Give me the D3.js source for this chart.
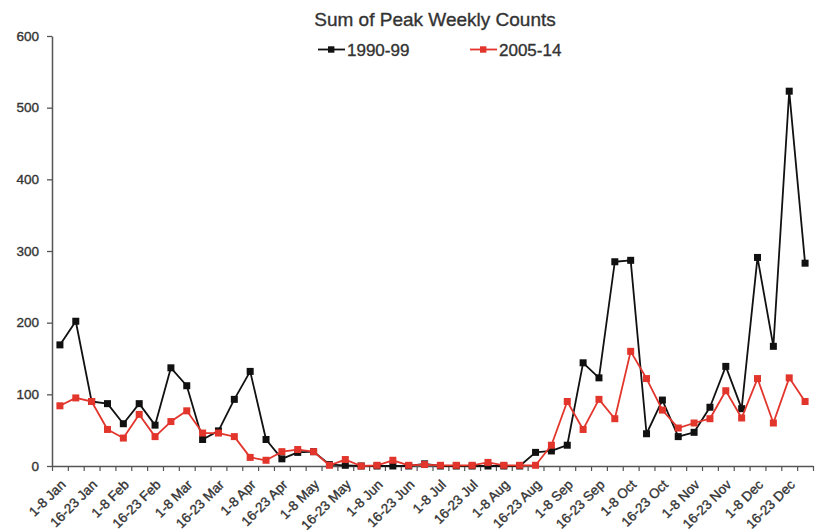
<!DOCTYPE html>
<html>
<head>
<meta charset="utf-8">
<script src="https://cdn.jsdelivr.net/npm/d3@7/dist/d3.min.js"></script>
<style>
  html, body { margin: 0; padding: 0; background: #fff; }
  svg { display: block; font-family: "Liberation Sans", Arial, sans-serif; }
</style>
</head>
<body>
<svg id="chart" width="816" height="532"></svg>
<script>
// Weekly periods, four per month; every other one is labelled
const months = ["Jan","Feb","Mar","Apr","May","Jun","Jul","Aug","Sep","Oct","Nov","Dec"];
const weekParts = ["1-8","9-15","16-23","24-31"];
const categories = months.flatMap(m => weekParts.map(w => w + " " + m));

// Sum of peak weekly counts, 1990-99
const counts1990s = [169,202,90,87,59,87,57,137,112,37,49,93,132,37,10,19,
                     20,2,1,0,0,0,0,3,0,0,0,0,0,0,19,21,
                     29,144,123,285,287,45,92,41,47,82,139,80,291,167,523,283];
// Sum of peak weekly counts, 2005-14
const counts2000s = [84,95,90,51,39,72,41,62,77,46,46,41,12,8,20,23,
                     20,1,9,0,1,8,1,2,1,1,1,5,1,1,1,29,
                     90,51,93,66,160,122,78,53,60,66,105,67,122,60,123,90];

const yTicks = [0,100,200,300,400,500,600];
const seriesNames = ["1990-99","2005-14"];
const title = "Sum of Peak Weekly Counts";

const series = [
  {name: seriesNames[0], values: counts1990s, color: "#111111"},
  {name: seriesNames[1], values: counts2000s, color: "#e2352c"}
];

const svg = d3.select("#chart");
const plotLeft = 52, plotRight = 813, plotTop = 36, plotBottom = 466;
const textColor = "#333333";

const x = d3.scaleBand().domain(categories).range([plotLeft, plotRight]).padding(0);
const xEdge = d3.scaleLinear().domain([0, categories.length]).range([plotLeft, plotRight]);
const y = d3.scaleLinear().domain([0, 600]).range([plotBottom, plotTop]);
const cx = c => x(c) + x.bandwidth() / 2;

// Slightly heavier text strokes for all labels
const heavy = sel => sel.attr("fill", textColor).attr("stroke", textColor)
  .attr("stroke-width", 0.35).attr("paint-order", "stroke");

// Title
svg.append("text")
  .attr("x", 435).attr("y", 25.5)
  .attr("text-anchor", "middle")
  .attr("font-size", 19)
  .text(title)
  .call(heavy);

// Legend
const legendX = [318, 470];
series.forEach((s, i) => {
  const g = svg.append("g").attr("transform", `translate(${legendX[i]},49.5)`);
  g.append("line").attr("x1", 0).attr("x2", 27).attr("y1", 0).attr("y2", 0)
    .attr("stroke", s.color).attr("stroke-width", 1.8);
  g.append("rect").attr("x", 10).attr("y", -3.2).attr("width", 6.4).attr("height", 6.4)
    .attr("fill", s.color);
  g.append("text").attr("x", 29).attr("y", 6)
    .attr("font-size", 17)
    .text(s.name)
    .call(heavy);
});

// Y axis
const yAxis = svg.append("g").attr("transform", `translate(${plotLeft},0)`)
  .call(d3.axisLeft(y).tickValues(yTicks).tickSize(5).tickPadding(8).tickSizeOuter(0));
yAxis.select(".domain").attr("stroke", "#555").attr("stroke-width", 1.5);
yAxis.selectAll(".tick line").attr("stroke", "#555").attr("stroke-width", 1.3);
yAxis.selectAll(".tick text").attr("font-size", 13.5)
  .style("font-family", "'Liberation Sans', Arial, sans-serif")
  .call(heavy);

// X axis: tick marks at the band edges
const xTickAxis = svg.append("g").attr("transform", `translate(0,${plotBottom})`)
  .call(d3.axisBottom(xEdge).tickValues(d3.range(categories.length + 1))
    .tickSize(5).tickSizeOuter(0).tickFormat(""));
xTickAxis.select(".domain").attr("stroke", "#555").attr("stroke-width", 1.5);
xTickAxis.selectAll(".tick line").attr("stroke", "#555").attr("stroke-width", 1.2);

// X axis labels: every other category, rotated
const xLabelAxis = svg.append("g").attr("transform", `translate(0,${plotBottom})`)
  .call(d3.axisBottom(x).tickValues(categories.filter((c, i) => i % 2 === 0))
    .tickSize(0).tickPadding(0));
xLabelAxis.select(".domain").remove();
xLabelAxis.selectAll(".tick text")
  .attr("font-size", 13.5)
  .style("font-family", "'Liberation Sans', Arial, sans-serif")
  .attr("text-anchor", "end")
  .attr("dy", null).attr("y", 0)
  .attr("transform", "translate(4,17) rotate(-45)")
  .attr("dominant-baseline", "middle")
  .call(heavy);

// Lines and square markers
const line = d3.line().x((d, i) => cx(categories[i])).y(d => y(d));
series.forEach(s => {
  svg.append("path").datum(s.values)
    .attr("fill", "none").attr("stroke", s.color).attr("stroke-width", 1.8)
    .attr("stroke-linejoin", "round")
    .attr("d", line);
  svg.append("g").selectAll("rect").data(s.values).join("rect")
    .attr("x", (d, i) => cx(categories[i]) - 3.5)
    .attr("y", d => y(d) - 3.5)
    .attr("width", 7).attr("height", 7)
    .attr("fill", s.color);
});
</script>
</body>
</html>
